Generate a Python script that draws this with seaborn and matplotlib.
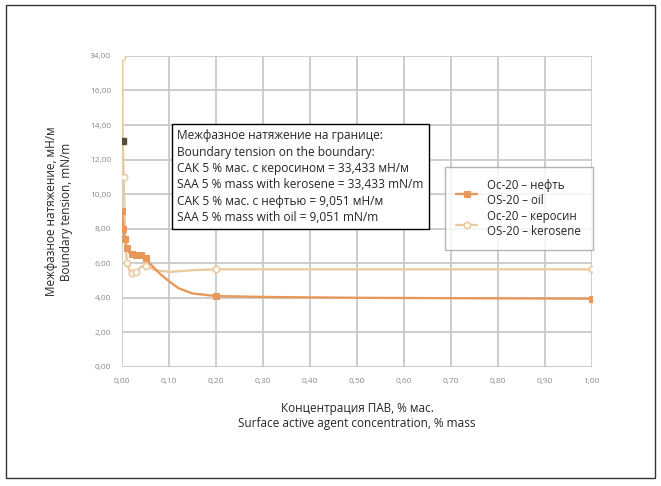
import numpy as np
import pandas as pd
import matplotlib
matplotlib.use("Agg")
import matplotlib.pyplot as plt
import seaborn as sns
from matplotlib.patches import Rectangle

# --- data ---
oil_x = [0, 0.002, 0.005, 0.01, 0.015, 0.02, 0.03, 0.04, 0.05, 0.06, 0.08, 0.1, 0.12, 0.15, 0.2, 0.3, 0.5, 0.7, 1.0]
oil_y = [9.05, 8.0, 7.4, 6.9, 6.6, 6.55, 6.5, 6.45, 6.3, 5.95, 5.4, 4.95, 4.55, 4.25, 4.1, 4.05, 4.0, 3.98, 3.95]
ker_x = [0, 0.001, 0.003, 0.006, 0.01, 0.015, 0.02, 0.03, 0.04, 0.05, 0.07, 0.1, 0.15, 0.2, 0.5, 1.0]
ker_y = [33.433, 13.1, 11.0, 7.5, 6.0, 5.6, 5.45, 5.5, 5.8, 5.85, 5.6, 5.5, 5.6, 5.65, 5.65, 5.65]

# points that carry a marker (the measured ones)
oil_marked = [0, 1, 2, 3, 5, 6, 7, 8, 14, 18]
ker_marked = [0, 2, 4, 6, 7, 9, 13, 15]

x_ticks = [0, 0.1, 0.2, 0.3, 0.4, 0.5, 0.6, 0.7, 0.8, 0.9, 1.0]
y_ticks = [0, 2, 4, 6, 8, 10, 12, 14, 16, 34]

label_oil = "Ос-20 – нефть\nOS-20 – oil"
label_ker = "Ос-20 – керосин\nOS-20 – kerosene"
note = ("Межфазное натяжение на границе:\n"
        "Boundary tension on the boundary:\n"
        "САК 5 % мас. с керосином = 33,433 мН/м\n"
        "SAA 5 % mass with kerosene = 33,433 mN/m\n"
        "САК 5 % мас. с нефтью = 9,051 мН/м\n"
        "SAA 5 % mass with oil = 9,051 mN/m")

sns.set_style("white")
plt.rcParams['font.family'] = ['Open Sans', 'DejaVu Sans']

oil_df = pd.DataFrame({'x': oil_x, 'y': oil_y})
ker_df = pd.DataFrame({'x': ker_x, 'y': ker_y})

fig = plt.figure(figsize=(6.61, 4.86), dpi=100)
ax = fig.add_axes([0.185, 0.245, 0.71, 0.64])

# broken upper part of the axis: 16..34 squeezed into one grid step
def fwd(v):
    v = np.asarray(v, dtype=float)
    return np.where(v <= 16, v, 16 + (v - 16) / 9.0)

def inv(v):
    v = np.asarray(v, dtype=float)
    return np.where(v <= 16, v, 16 + (v - 16) * 9.0)

ax.set_yscale('function', functions=(fwd, inv))

oil_col = '#e8995a'
ker_col = '#eacb9f'

sns.lineplot(data=ker_df, x='x', y='y', ax=ax, color=ker_col, lw=1.7,
             marker='o', markersize=4.5, markerfacecolor='white', markeredgewidth=1.2,
             markeredgecolor=ker_col, markevery=ker_marked, label=label_ker, sort=False)
sns.lineplot(data=oil_df, x='x', y='y', ax=ax, color=oil_col, lw=1.7,
             marker='s', markersize=4, markerfacecolor=oil_col,
             markeredgecolor=oil_col, markevery=oil_marked, label=label_oil, sort=False)
# the darker marker on the kerosene curve near 13 mN/m
ax.plot(ker_x[1], ker_y[1], marker='s', ms=5, color='#5e4b36', ls='none')

ax.set_xlim(0, 1.0)
ax.set_ylim(0, 34)
ax.set_xticks(x_ticks)
ax.set_xticklabels([f"{v:.2f}".replace('.', ',') for v in x_ticks])
ax.set_yticks(y_ticks)
ax.set_yticklabels([f"{v:.2f}".replace('.', ',') for v in y_ticks])
ax.tick_params(labelsize=6, labelcolor='#8a8a8a', length=4, width=1.2,
               color='#c9c9c9', pad=4)
ax.grid(True, color='#c9c9c9', lw=1.3)
for s in ax.spines.values():
    s.set_visible(False)

ax.set_xlabel("Концентрация ПАВ, % мас.\nSurface active agent concentration, % mass",
              fontsize=8.5, labelpad=12)
ax.set_ylabel("Межфазное натяжение, мН/м\nBoundary tension, mN/m",
              fontsize=8.5, labelpad=12)

ax.text(0.117, 13.75, note, fontsize=8.6, va='top', ha='left', linespacing=1.33,
        bbox=dict(boxstyle='square,pad=0.45', fc='white', ec='black', lw=1))

handles, labels = ax.get_legend_handles_labels()
leg = ax.legend(handles[::-1][:2], labels[::-1][:2], loc='upper left',
                bbox_to_anchor=(0.687, 0.642), fontsize=8.3, frameon=True,
                fancybox=False, edgecolor='#a0a0a0', handlelength=1.8,
                labelspacing=0.3, borderpad=1.0, handletextpad=0.9,
                borderaxespad=0.0)
leg.get_frame().set_linewidth(1.0)

fig.patches.append(Rectangle((0.009, 0.016), 0.982, 0.974, transform=fig.transFigure,
                             fill=False, ec='#333333', lw=1))

fig.savefig("out.png", dpi=100)
